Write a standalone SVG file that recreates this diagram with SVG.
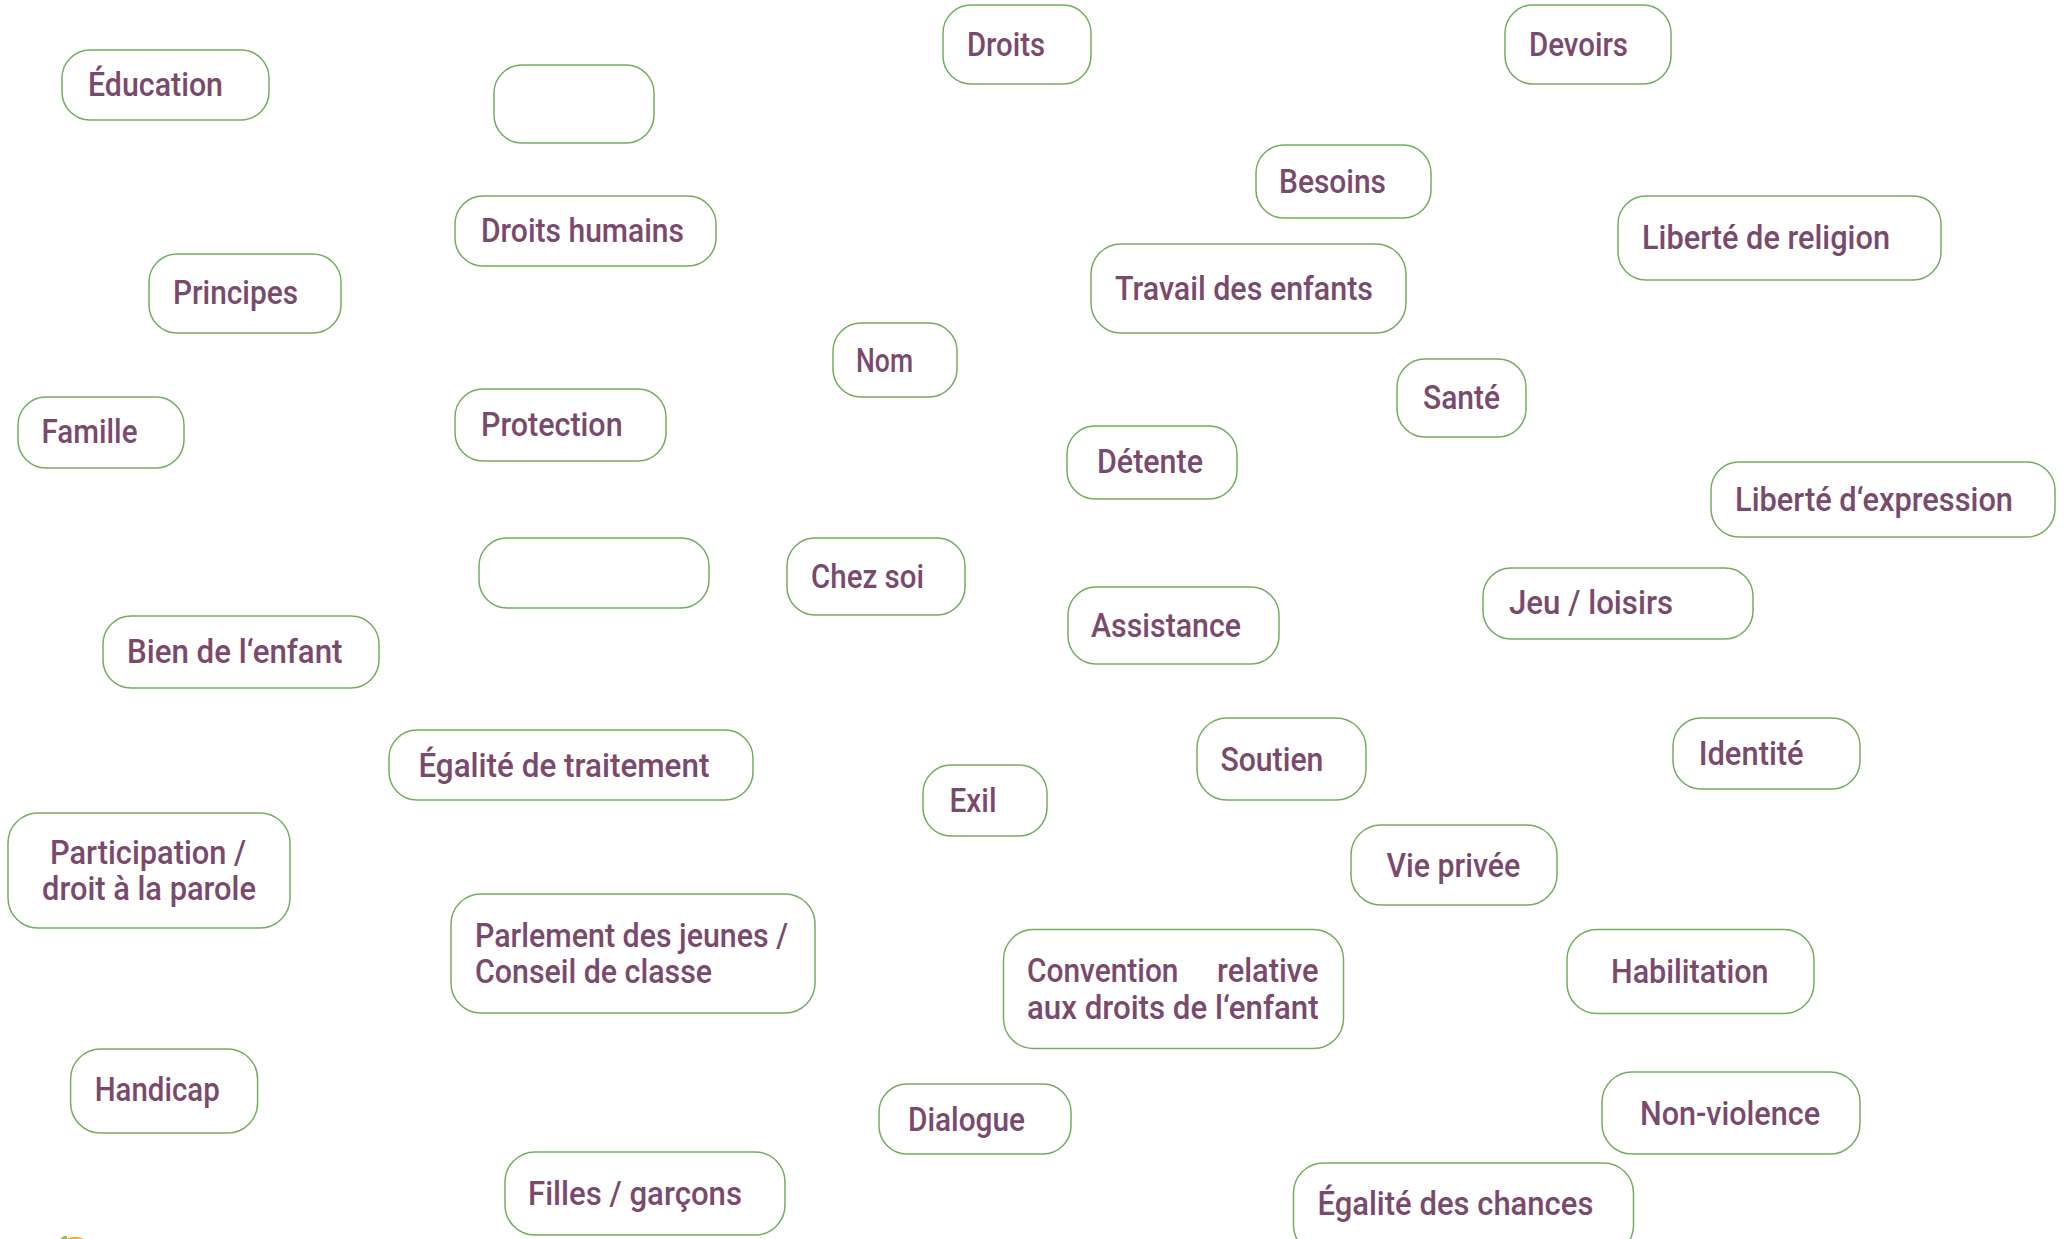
<svg xmlns="http://www.w3.org/2000/svg" width="2067" height="1239" viewBox="0 0 2067 1239">
<style>
.b{fill:#ffffff;stroke:#72ae5f;stroke-width:1.5}
.t{font-family:Roboto,"Liberation Sans",sans-serif;font-weight:500;font-size:32.5px;fill:#7a4a6d}
</style>
<rect width="2067" height="1239" fill="#ffffff"/>
<g id="connectors"></g>
<g id="n-education"><rect class="b" x="62" y="50" width="207" height="70" rx="28"/><text class="t" x="88" y="96" textLength="135" lengthAdjust="spacingAndGlyphs">Éducation</text></g>
<g id="n-empty1"><rect class="b" x="494" y="65" width="160" height="78" rx="28"/></g>
<g id="n-droits"><rect class="b" x="943" y="5" width="148" height="79" rx="28"/><text class="t" x="967" y="56" textLength="78" lengthAdjust="spacingAndGlyphs">Droits</text></g>
<g id="n-devoirs"><rect class="b" x="1505" y="5" width="166" height="79" rx="28"/><text class="t" x="1529" y="56" textLength="99" lengthAdjust="spacingAndGlyphs">Devoirs</text></g>
<g id="n-besoins"><rect class="b" x="1256" y="145" width="175" height="73" rx="28"/><text class="t" x="1279" y="193" textLength="107" lengthAdjust="spacingAndGlyphs">Besoins</text></g>
<g id="n-droits-humains"><rect class="b" x="455" y="196" width="261" height="70" rx="28"/><text class="t" x="481" y="242" textLength="203" lengthAdjust="spacingAndGlyphs">Droits humains</text></g>
<g id="n-liberte-religion"><rect class="b" x="1618" y="196" width="323" height="84" rx="28"/><text class="t" x="1642" y="249" textLength="248" lengthAdjust="spacingAndGlyphs">Liberté de religion</text></g>
<g id="n-principes"><rect class="b" x="149" y="254" width="192" height="79" rx="28"/><text class="t" x="173" y="304" textLength="125" lengthAdjust="spacingAndGlyphs">Principes</text></g>
<g id="n-travail"><rect class="b" x="1091" y="244" width="315" height="89" rx="30"/><text class="t" x="1115" y="300" textLength="258" lengthAdjust="spacingAndGlyphs">Travail des enfants</text></g>
<g id="n-nom"><rect class="b" x="833" y="323" width="124" height="74" rx="28"/><text class="t" x="856" y="372" textLength="57" lengthAdjust="spacingAndGlyphs">Nom</text></g>
<g id="n-sante"><rect class="b" x="1397" y="359" width="129" height="78" rx="28"/><text class="t" x="1423" y="409" textLength="77" lengthAdjust="spacingAndGlyphs">Santé</text></g>
<g id="n-famille"><rect class="b" x="18" y="397" width="166" height="71" rx="28"/><text class="t" x="41.5" y="443" textLength="96" lengthAdjust="spacingAndGlyphs">Famille</text></g>
<g id="n-protection"><rect class="b" x="455" y="389" width="211" height="72" rx="28"/><text class="t" x="481" y="436" textLength="141.6" lengthAdjust="spacingAndGlyphs">Protection</text></g>
<g id="n-detente"><rect class="b" x="1067" y="426" width="170" height="73" rx="28"/><text class="t" x="1097" y="473" textLength="106" lengthAdjust="spacingAndGlyphs">Détente</text></g>
<g id="n-liberte-expression"><rect class="b" x="1711" y="462" width="344" height="75" rx="28"/><text class="t" x="1735" y="511" textLength="278" lengthAdjust="spacingAndGlyphs">Liberté d‘expression</text></g>
<g id="n-empty2"><rect class="b" x="479" y="538" width="230" height="70" rx="28"/></g>
<g id="n-chez-soi"><rect class="b" x="787" y="538" width="178" height="77" rx="28"/><text class="t" x="811" y="588" textLength="113" lengthAdjust="spacingAndGlyphs">Chez soi</text></g>
<g id="n-assistance"><rect class="b" x="1068" y="587" width="211" height="77" rx="28"/><text class="t" x="1091" y="637" textLength="150" lengthAdjust="spacingAndGlyphs">Assistance</text></g>
<g id="n-jeu-loisirs"><rect class="b" x="1483" y="568" width="270" height="71" rx="28"/><text class="t" x="1509" y="614" textLength="164" lengthAdjust="spacingAndGlyphs">Jeu / loisirs</text></g>
<g id="n-bien-enfant"><rect class="b" x="103" y="616" width="276" height="72" rx="28"/><text class="t" x="127" y="663" textLength="215.5" lengthAdjust="spacingAndGlyphs">Bien de l‘enfant</text></g>
<g id="n-egalite-traitement"><rect class="b" x="389" y="730" width="364" height="70" rx="28"/><text class="t" x="418.4" y="777" textLength="291" lengthAdjust="spacingAndGlyphs">Égalité de traitement</text></g>
<g id="n-soutien"><rect class="b" x="1197" y="718" width="169" height="82" rx="30"/><text class="t" x="1220.4" y="771" textLength="103" lengthAdjust="spacingAndGlyphs">Soutien</text></g>
<g id="n-identite"><rect class="b" x="1673" y="718" width="187" height="71" rx="28"/><text class="t" x="1698.7" y="765" textLength="105" lengthAdjust="spacingAndGlyphs">Identité</text></g>
<g id="n-exil"><rect class="b" x="923" y="765" width="124" height="71" rx="28"/><text class="t" x="949.5" y="812" textLength="47" lengthAdjust="spacingAndGlyphs">Exil</text></g>
<g id="n-participation"><rect class="b" x="8" y="813" width="282" height="115" rx="30"/><text class="t" text-anchor="middle"><tspan x="148" y="864" textLength="196" lengthAdjust="spacingAndGlyphs">Participation /</tspan><tspan x="149" y="900" textLength="214" lengthAdjust="spacingAndGlyphs">droit à la parole</tspan></text></g>
<g id="n-vie-privee"><rect class="b" x="1351" y="825" width="206" height="80" rx="30"/><text class="t" x="1386.6" y="877" textLength="133.6" lengthAdjust="spacingAndGlyphs">Vie privée</text></g>
<g id="n-parlement"><rect class="b" x="451" y="894" width="364" height="119" rx="30"/><text class="t"><tspan x="475" y="947" textLength="313" lengthAdjust="spacingAndGlyphs">Parlement des jeunes /</tspan><tspan x="475" y="983" textLength="237" lengthAdjust="spacingAndGlyphs">Conseil de classe</tspan></text></g>
<g id="n-convention"><rect class="b" x="1003.5" y="929.5" width="340" height="119" rx="30"/><text class="t"><tspan x="1027" y="982" textLength="151.5" lengthAdjust="spacingAndGlyphs">Convention</tspan><tspan x="1217" y="982" textLength="101.5" lengthAdjust="spacingAndGlyphs">relative</tspan><tspan x="1027" y="1019" textLength="291.6" lengthAdjust="spacingAndGlyphs">aux droits de l‘enfant</tspan></text></g>
<g id="n-habilitation"><rect class="b" x="1567" y="929.5" width="247" height="84" rx="30"/><text class="t" x="1611" y="983" textLength="157.5" lengthAdjust="spacingAndGlyphs">Habilitation</text></g>
<g id="n-handicap"><rect class="b" x="70.6" y="1049" width="187" height="84" rx="30"/><text class="t" x="94.7" y="1101" textLength="125" lengthAdjust="spacingAndGlyphs">Handicap</text></g>
<g id="n-dialogue"><rect class="b" x="879" y="1084" width="192" height="70" rx="28"/><text class="t" x="908" y="1131" textLength="117" lengthAdjust="spacingAndGlyphs">Dialogue</text></g>
<g id="n-non-violence"><rect class="b" x="1602" y="1072" width="258" height="82" rx="30"/><text class="t" x="1640" y="1125" textLength="180" lengthAdjust="spacingAndGlyphs">Non-violence</text></g>
<g id="n-filles-garcons"><rect class="b" x="505" y="1152" width="280" height="83" rx="30"/><text class="t" x="528" y="1205" textLength="214" lengthAdjust="spacingAndGlyphs">Filles / garçons</text></g>
<g id="n-egalite-chances"><rect class="b" x="1293.5" y="1163" width="340" height="92" rx="30"/><text class="t" x="1317.4" y="1215" textLength="276" lengthAdjust="spacingAndGlyphs">Égalité des chances</text></g>
<g id="deco"><path d="M60 1239 L64 1236 L67 1236 L67 1239 Z" fill="#8cc04a"/><ellipse cx="75" cy="1240" rx="9" ry="3" fill="#f2a62b"/></g>
</svg>
